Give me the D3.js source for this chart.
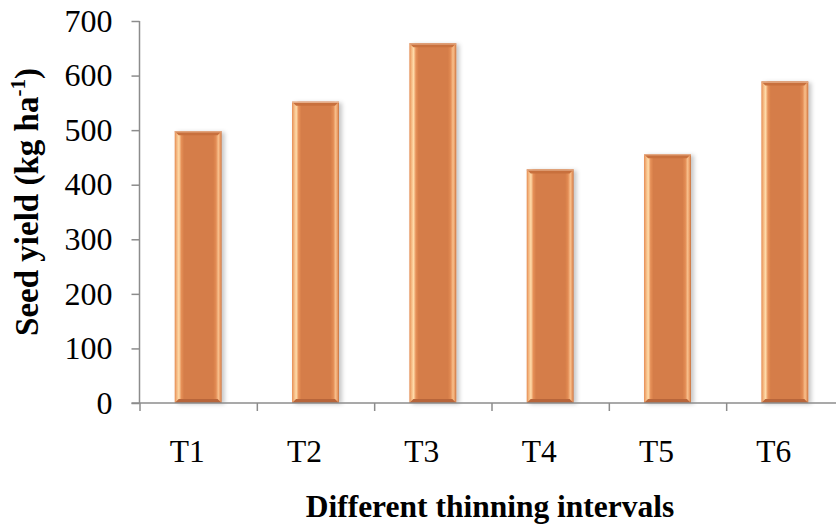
<!DOCTYPE html>
<html><head><meta charset="utf-8">
<script src="https://cdn.jsdelivr.net/npm/d3@7"></script>
<style>
html,body{margin:0;padding:0;background:#fff;}
text{font-family:"Liberation Serif","Times New Roman",serif;fill:#000;}
</style></head>
<body><svg id="chart" width="836" height="527"></svg>
<script>
const categories = ["T1","T2","T3","T4","T5","T6"];
const seedYield = [498, 552, 659, 428, 456, 589];
const yTicks = [0,100,200,300,400,500,600,700];

const svg = d3.select("#chart");
const x0 = 139.5, x1 = 843.5, yTop = 21, yBot = 403;

const x = d3.scaleBand().domain(categories).range([x0, x1]).paddingInner(0.6).paddingOuter(0.3);
const xEdge = d3.scaleLinear().domain([0, categories.length]).range([x0, x1]);
const y = d3.scaleLinear().domain([0, 700]).range([yBot, yTop]);

const defs = svg.append("defs");
const g = defs.append("linearGradient").attr("id","barGrad").attr("x1","0").attr("x2","1").attr("y1","0").attr("y2","0");
[[0,"#e58a50"],[0.04,"#f3b47d"],[0.09,"#ffdcaa"],[0.14,"#e69058"],[0.2,"#d57d48"],[0.82,"#d57d48"],[0.88,"#e38c55"],[0.93,"#f8c08c"],[0.97,"#e99a63"],[1,"#c46e3b"]]
  .forEach(([o,c]) => g.append("stop").attr("offset",o).attr("stop-color",c));
const f = defs.append("filter").attr("id","shadow").attr("x","-20%").attr("y","-5%").attr("width","150%").attr("height","115%");
f.append("feDropShadow").attr("dx",3).attr("dy",1).attr("stdDeviation",2).attr("flood-color","#000").attr("flood-opacity",0.22);

// bars
const bars = svg.append("g");
categories.forEach((c, i) => {
  const bx = x(c), bw = x.bandwidth(), by = y(seedYield[i]), bh = yBot - y(seedYield[i]);
  const bg = bars.append("g");
  bg.append("rect").attr("x", bx).attr("y", by).attr("width", bw).attr("height", bh)
    .attr("fill", "url(#barGrad)").attr("filter","url(#shadow)");
  bg.append("path").attr("d", `M${bx},${by} L${bx+bw},${by} L${bx+bw-4},${by+4} L${bx+4},${by+4} Z`).attr("fill","#c8703d");
  bg.append("rect").attr("x", bx).attr("y", by).attr("width", bw).attr("height", 1.2).attr("fill","#e7b08c");
  bg.append("path").attr("d", `M${bx},${yBot} L${bx+bw},${yBot} L${bx+bw-4},${yBot-4} L${bx+4},${yBot-4} Z`).attr("fill","#b8653a");
});

// y axis
const yAxis = d3.axisLeft(y).tickValues(yTicks).tickSize(8).tickPadding(19).tickFormat(d3.format("d"));
const ya = svg.append("g").attr("transform", `translate(${x0},0)`).call(yAxis);
ya.select(".domain").attr("stroke","#8c8c8c").attr("stroke-width",1.5).attr("d", `M0,${yTop}V${yBot}`);
ya.selectAll(".tick line").attr("stroke","#8c8c8c").attr("stroke-width",1.5);
ya.selectAll(".tick text").style("font-size","32px").attr("dy","0.32em");

// x axis: boundary ticks
const xb = d3.axisBottom(xEdge).tickValues(d3.range(0, categories.length + 1)).tickSize(8).tickFormat("");
const xa = svg.append("g").attr("transform", `translate(0,${yBot})`).call(xb);
xa.select(".domain").attr("stroke","#8c8c8c").attr("stroke-width",1.5).attr("d", `M${x0-8},0H${x1}`);
xa.selectAll(".tick line").attr("stroke","#8c8c8c").attr("stroke-width",1.5);

// x labels
const xl = d3.axisBottom(x).tickSize(0).tickPadding(0);
const xla = svg.append("g").attr("transform", `translate(-11,${yBot})`).call(xl);
xla.select(".domain").remove();
xla.selectAll(".tick text").style("font-size","31.5px").attr("y", 59).attr("dy", 0);

// axis titles
svg.append("text").attr("x", 490).attr("y", 517).attr("text-anchor","middle")
  .style("font-size","31.5px").style("font-weight","bold").text("Different thinning intervals");

const yt = svg.append("text").attr("transform", `translate(38,202) rotate(-90)`)
  .attr("text-anchor","middle").style("font-size","33px").style("font-weight","bold");
yt.append("tspan").text("Seed yield (kg ha");
yt.append("tspan").attr("dy","-13").style("font-size","21px").text("-1");
yt.append("tspan").attr("dy","13").text(")");
</script></body></html>
